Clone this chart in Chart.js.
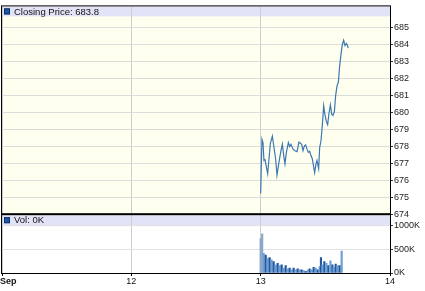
<!DOCTYPE html>
<html>
<head>
<meta charset="utf-8">
<style>
  html, body { margin: 0; padding: 0; background: #fff; }
</style>
</head>
<body>
<canvas id="stock" width="425" height="291"></canvas>
<script src="https://cdn.jsdelivr.net/npm/chart.js@4.4.0/dist/chart.umd.min.js"></script>
<script>
// x axis: days of September
const dayTicks = [11, 12, 13, 14];
const dayLabels = ["Sep", "12", "13", "14"];

// closing price, hours after the start of Sep 13
const priceHours = [0.00, 0.24, 0.43, 0.61, 0.80, 1.30, 1.80, 2.17, 2.47, 2.78,
  3.03, 3.40, 3.77, 4.03, 4.27, 4.51, 4.77, 5.14, 5.38, 5.62,
  6.00, 6.37, 6.74, 7.11, 7.61, 7.85, 8.11, 8.35, 8.59, 8.85,
  9.09, 9.34, 9.59, 9.84, 10.02, 10.26, 10.45, 10.76, 10.95, 11.19,
  11.45, 11.69, 11.93, 12.19, 12.43, 12.68, 12.94, 13.18, 13.42, 13.68,
  13.92, 14.16, 14.42, 14.66, 14.90, 15.16, 15.40, 15.65, 15.91, 16.15, 16.24];
const prices = [675.23, 678.42, 678.23, 677.17, 677.22, 676.39, 678.19, 678.61, 677.94, 677.26,
  676.30, 677.07, 677.75, 678.13, 677.46, 676.97, 677.65, 678.23, 678.00, 678.13,
  677.84, 677.75, 677.69, 678.26, 678.13, 677.75, 678.03, 678.09, 677.84, 677.65,
  677.71, 677.46, 677.26, 676.78, 676.45, 676.97, 677.17, 676.69, 677.94, 678.32,
  679.29, 680.41, 679.87, 679.48, 679.29, 679.96, 680.45, 679.91, 679.83, 680.06,
  681.02, 681.56, 681.80, 682.76, 683.44, 684.02, 684.27, 683.96, 684.08, 683.92, 683.80];

// volume in thousands
const volHours = [0.00, 0.28, 0.56, 0.93, 1.30, 1.67, 2.04, 2.41, 2.78, 3.16,
  3.53, 3.90, 4.27, 4.64, 5.01, 5.38, 5.75, 6.12, 6.50, 6.87,
  7.24, 7.61, 7.98, 8.35, 8.72, 9.09, 9.47, 9.84, 10.21, 10.58,
  10.95, 11.19, 11.45, 11.82, 12.19, 12.56, 12.94, 13.31, 13.55, 13.92,
  14.29, 14.66, 15.03];
const volumes = [729, 833, 416, 382, 312, 326, 278, 243, 174, 208,
  160, 174, 104, 160, 90, 104, 69, 104, 69, 90,
  69, 69, 49, 35, 62, 90, 69, 118, 104, 69,
  139, 326, 174, 243, 208, 160, 257, 174, 118, 187,
  160, 160, 465];

const priceTicks = [674, 675, 676, 677, 678, 679, 680, 681, 682, 683, 684, 685];
const volTicks = [0, 500, 1000];

const toDay = h => 13 + h / 24;
const pricePoints = priceHours.map((h, i) => ({x: toDay(h), y: prices[i]}));
const volPoints = volHours.map((h, i) => ({x: toDay(h), y: volumes[i]}));

const tickFont = {family: '"Liberation Sans", Arial, sans-serif', size: 9};

const panels = {
    id: 'panels',
    beforeDraw(chart) {
        const {ctx, chartArea: a, scales} = chart;
        const split = scales.y.bottom;
        ctx.save();
        ctx.fillStyle = '#ffffef';
        ctx.fillRect(a.left, a.top, a.width, split - a.top);
        ctx.fillStyle = '#ffffff';
        ctx.fillRect(a.left, split, a.width, a.bottom - split);
        ctx.fillStyle = '#e3e3f7';
        ctx.fillRect(a.left, a.top, a.width, 10);
        ctx.fillRect(a.left, split + 1, a.width, 11);
        ctx.restore();
    },
    afterDraw(chart) {
        const {ctx, chartArea: a, scales} = chart;
        const split = scales.y.bottom;
        ctx.save();
        // frame
        ctx.strokeStyle = '#000';
        ctx.lineWidth = 1;
        ctx.strokeRect(a.left - 0.5, a.top - 0.5, a.width + 1, a.bottom - a.top + 1);
        ctx.fillStyle = '#000';
        ctx.fillRect(a.left, split - 1, a.width, 2);

        // legends
        const legend = (y, text) => {
            ctx.fillStyle = '#1d58a8';
            ctx.fillRect(a.left + 2, y, 6, 6);
            ctx.strokeStyle = '#0c2e66';
            ctx.strokeRect(a.left + 2.5, y + 0.5, 5, 5);
            ctx.fillStyle = '#111';
            ctx.font = '9.5px "Liberation Sans", Arial, sans-serif';
            ctx.textBaseline = 'middle';
            ctx.textAlign = 'left';
            ctx.fillText(text, a.left + 12, y + 3.5);
        };
        legend(a.top + 2, 'Closing Price: ' + prices[prices.length - 1].toFixed(1));
        legend(split + 3, 'Vol: 0K');

        // x labels
        ctx.fillStyle = '#111';
        ctx.textBaseline = 'middle';
        dayTicks.forEach((d, i) => {
            const px = scales.x.getPixelForValue(d);
            if (i === 0) {
                ctx.font = 'bold 9px "Liberation Sans", Arial, sans-serif';
                ctx.textAlign = 'left';
                ctx.fillText(dayLabels[i], 0, a.bottom + 9);
            } else {
                ctx.font = '9px "Liberation Sans", Arial, sans-serif';
                ctx.textAlign = 'center';
                ctx.fillText(dayLabels[i], px, a.bottom + 9);
            }
        });
        ctx.restore();
    }
};

new Chart(document.getElementById('stock'), {
    type: 'line',
    data: {
        datasets: [{
            type: 'line',
            label: 'Closing Price',
            data: pricePoints,
            yAxisID: 'y',
            borderColor: '#3b77b3',
            borderWidth: 1.2,
            pointRadius: 0,
            tension: 0,
        }, {
            type: 'bar',
            label: 'Vol',
            data: volPoints,
            yAxisID: 'yVol',
            backgroundColor: c => c.dataIndex < 2 ? '#8aa7c6' : (c.dataIndex % 2 ? '#22589e' : '#6c9fd6'),
            barThickness: 1.5,
        }]
    },
    options: {
        responsive: false,
        devicePixelRatio: 1,
        animation: false,
        layout: {padding: {left: 2, top: 1, right: 0, bottom: 0}},
        plugins: {legend: {display: false}, tooltip: {enabled: false}},
        scales: {
            x: {
                type: 'linear',
                min: 11,
                max: 14,
                offset: false,
                afterBuildTicks: s => { s.ticks = dayTicks.map(v => ({value: v})); },
                afterFit: s => { s.height = 18; },
                ticks: {display: false, autoSkip: false},
                grid: {color: '#cccccc', tickColor: '#000', tickLength: 3, offset: false},
                border: {display: false},
            },
            y: {
                position: 'right',
                stack: 'panes',
                stackWeight: 212,
                min: 674,
                max: 686.27,
                afterBuildTicks: s => { s.ticks = priceTicks.map(v => ({value: v})); },
                afterFit: s => { s.width = 35; },
                ticks: {font: tickFont, color: '#222', padding: 1, autoSkip: false},
                grid: {color: '#dcdcdc', tickColor: '#333', tickLength: 3},
                border: {display: false},
            },
            yVol: {
                position: 'right',
                stack: 'panes',
                stackWeight: 60,
                min: 0,
                max: 1250,
                afterBuildTicks: s => { s.ticks = volTicks.map(v => ({value: v})); },
                afterFit: s => { s.width = 35; },
                ticks: {font: tickFont, color: '#222', padding: 1, autoSkip: false, callback: v => v + 'K'},
                grid: {color: '#e2e2e2', tickColor: '#333', tickLength: 3},
                border: {display: false},
            }
        }
    },
    plugins: [panels]
});
</script>
</body>
</html>
